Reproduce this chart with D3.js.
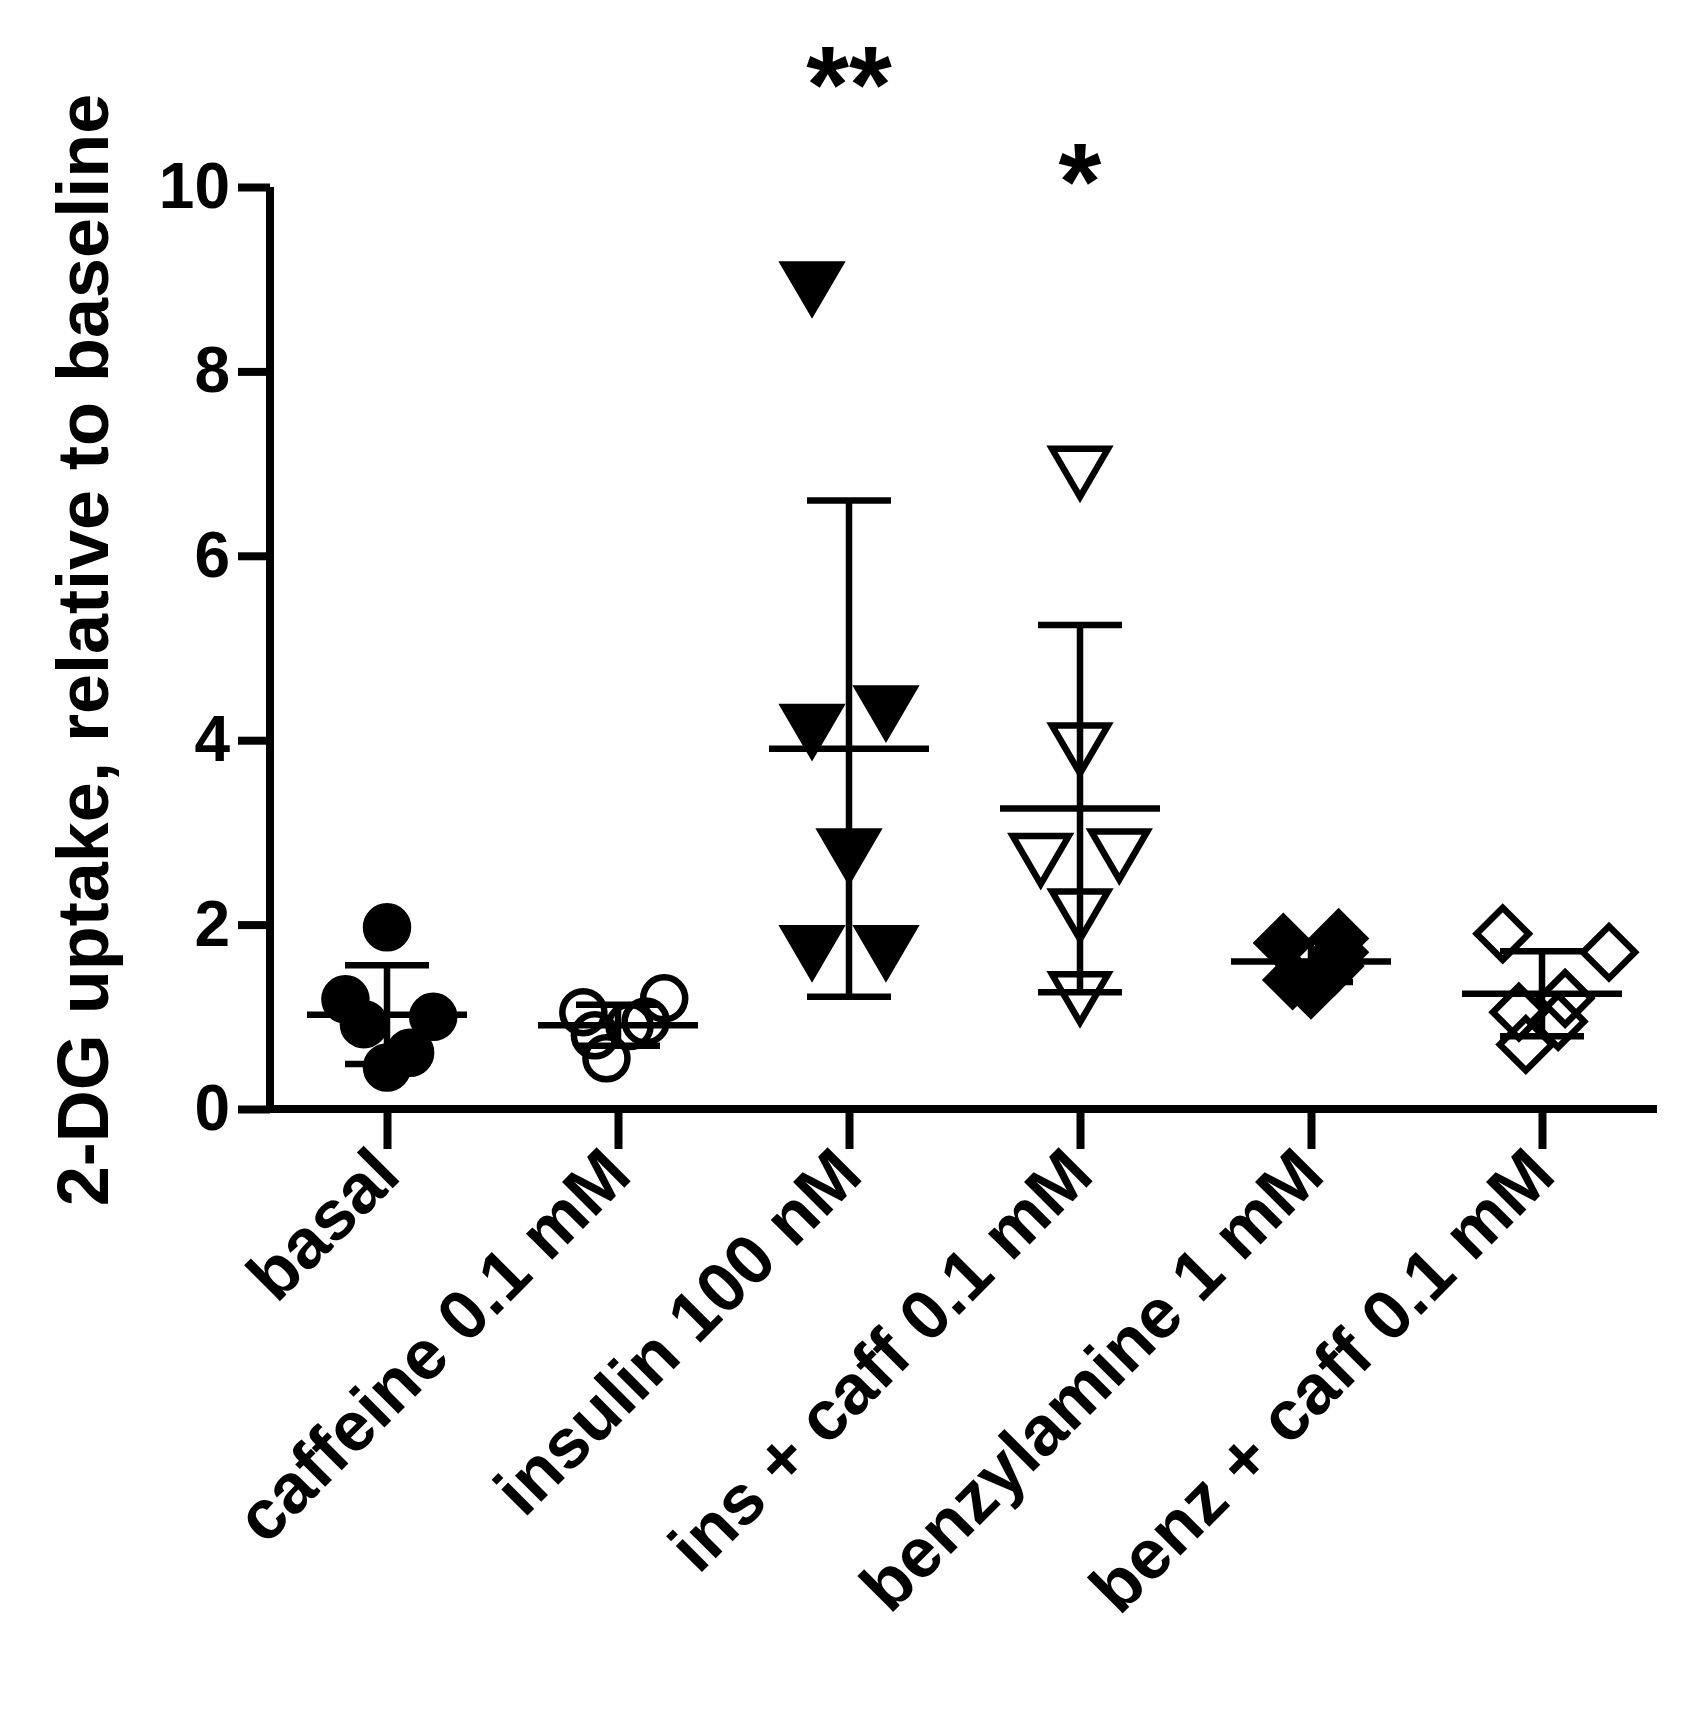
<!doctype html>
<html>
<head>
<meta charset="utf-8">
<script src="https://d3js.org/d3.v7.min.js"></script>
<style>
  body { margin: 0; background: #fff; }
  text { font-family: "Liberation Sans", Arial, sans-serif; font-weight: bold; }
</style>
</head>
<body>
<div id="chart"></div>
<script>
const categories = ["basal", "caffeine 0.1 mM", "insulin 100 nM", "ins + caff 0.1 mM", "benzylamine 1 mM", "benz + caff 0.1 mM"];
const shapes = ["circleFill", "circleOpen", "triFill", "triOpen", "diamondFill", "diamondOpen"];
const values = [
  [1.19, 1.97, 0.92, 1.0, 0.61, 0.45],
  [1.05, 0.8, 0.55, 0.9, 1.2, 0.95],
  [8.9, 4.1, 4.3, 2.75, 1.7, 1.7],
  [6.9, 3.9, 2.7, 2.75, 2.1, 1.2],
  [1.8, 1.85, 1.55, 1.3, 1.4, 1.7],
  [1.9, 1.7, 1.2, 0.7, 1.05, 0.95]
];
// horizontal jitter, fraction of band
const jitter = [
  [-0.18, 0, -0.1, 0.2, 0.1, 0],
  [-0.15, -0.1, -0.05, 0.05, 0.2, 0.12],
  [-0.16, -0.16, 0.16, 0, -0.16, 0.16],
  [0, 0, -0.17, 0.17, 0, 0],
  [-0.12, 0.12, 0.1, 0, -0.08, 0.12],
  [-0.17, 0.29, 0.1, -0.07, -0.1, 0.07]
];
const yTicks = [0, 2, 4, 6, 8, 10];
const stars = [{ cat: 2, text: "**", y: 11.3 }, { cat: 3, text: "*", y: 10.25 }];

const W = 1700, H = 1712;
const svg = d3.select("#chart").append("svg").attr("width", W).attr("height", H);

const x = d3.scalePoint().domain(categories).range([387, 1542]);
const band = 231;
const y = d3.scaleLinear().domain([0, 10]).range([1109, 187]);

const yAxis = svg.append("g").attr("transform", "translate(270,0)")
  .call(d3.axisLeft(y).tickValues(yTicks).tickSize(32).tickPadding(8));
const xAxis = svg.append("g").attr("transform", "translate(0,1109)")
  .call(d3.axisBottom(x).tickSize(40).tickFormat(""));
xAxis.select(".domain").attr("d", "M270,0H1657");
yAxis.select(".domain").attr("d", "M0,1113V187");
svg.selectAll(".domain, .tick line").attr("stroke", "#000").attr("stroke-width", 8);
yAxis.selectAll("text").attr("font-size", 64).attr("fill", "#000");

categories.forEach(c => {
  svg.append("text")
    .attr("transform", `translate(${x(c) + 16},${1178}) rotate(-45)`)
    .attr("text-anchor", "end")
    .attr("font-size", 70)
    .text(c);
});

svg.append("text")
  .attr("transform", "translate(108,650) rotate(-90)")
  .attr("text-anchor", "middle")
  .attr("font-size", 72)
  .text("2-DG uptake, relative to baseline");

const sw = 6.5;
function marker(g, kind, cx, cy) {
  const fill = kind.endsWith("Fill") ? "#000" : "none";
  if (kind.startsWith("circle")) {
    g.append("circle").attr("cx", cx).attr("cy", cy).attr("r", 21)
      .attr("fill", fill).attr("stroke", "#000").attr("stroke-width", sw);
  } else if (kind.startsWith("tri")) {
    const w = 28, h = 48;
    g.append("path").attr("d", `M${cx - w},${cy - h / 2}L${cx + w},${cy - h / 2}L${cx},${cy + h / 2}Z`)
      .attr("fill", fill).attr("stroke", "#000").attr("stroke-width", sw).attr("stroke-linejoin", "miter");
  } else {
    const r = 26;
    g.append("path").attr("d", `M${cx},${cy - r}L${cx + r},${cy}L${cx},${cy + r}L${cx - r},${cy}Z`)
      .attr("fill", fill).attr("stroke", "#000").attr("stroke-width", sw);
  }
}

categories.forEach((c, i) => {
  const g = svg.append("g");
  values[i].forEach((v, j) => marker(g, shapes[i], x(c) + jitter[i][j] * band, y(v)));
  const m = d3.mean(values[i]), sd = d3.deviation(values[i]);
  const cx = x(c);
  const line = (x1, y1, x2, y2) => g.append("line").attr("x1", x1).attr("y1", y1).attr("x2", x2).attr("y2", y2)
    .attr("stroke", "#000").attr("stroke-width", 6.5);
  line(cx, y(m + sd), cx, y(Math.max(0, m - sd)));
  line(cx - 42, y(m + sd), cx + 42, y(m + sd));
  line(cx - 42, y(m - sd), cx + 42, y(m - sd));
  line(cx - 80, y(m), cx + 80, y(m));
});

stars.forEach(s => {
  svg.append("text").attr("x", x(categories[s.cat])).attr("y", y(s.y) + 55)
    .attr("text-anchor", "middle").attr("font-size", 110).text(s.text);
});
</script>
</body>
</html>
